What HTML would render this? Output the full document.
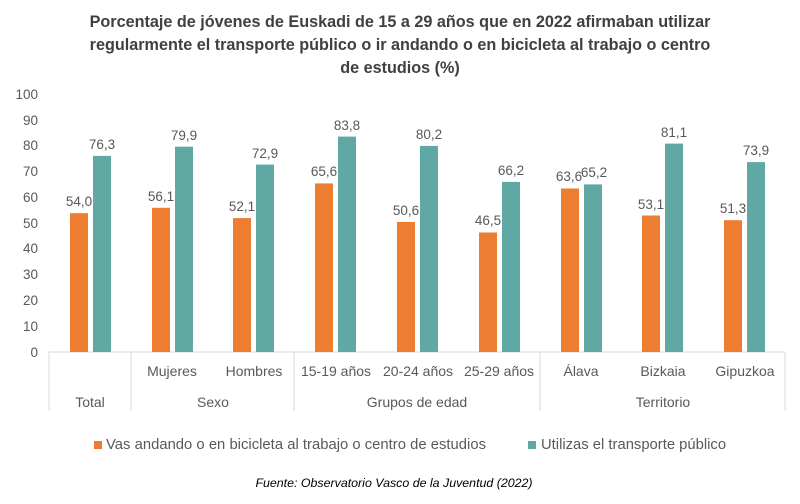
<!DOCTYPE html>
<html><head><meta charset="utf-8"><style>body{margin:0;background:#fff}svg{display:block}</style></head>
<body>
<svg width="800" height="504" xmlns="http://www.w3.org/2000/svg" font-family="Liberation Sans, sans-serif">
<g font-weight="bold" font-size="16.2" fill="#404040" text-anchor="middle">
<text x="400" y="27">Porcentaje de jóvenes de Euskadi de 15 a 29 años que en 2022 afirmaban utilizar</text>
<text x="400" y="50">regularmente el transporte público o ir andando o en bicicleta al trabajo o centro</text>
<text x="400" y="73">de estudios (%)</text>
</g>
<g font-size="13.5" fill="#595959" text-anchor="end">
<text x="38" y="99">100</text><text x="38" y="125">90</text><text x="38" y="150">80</text><text x="38" y="176">70</text><text x="38" y="202">60</text><text x="38" y="228">50</text><text x="38" y="253">40</text><text x="38" y="279">30</text><text x="38" y="305">20</text><text x="38" y="331">10</text><text x="38" y="357">0</text>
</g>
<g stroke="#d9d9d9" stroke-width="1">
<line x1="49" y1="352" x2="785" y2="352"/>
<line x1="49" y1="352" x2="49" y2="411"/>
<line x1="131" y1="352" x2="131" y2="411"/>
<line x1="294" y1="352" x2="294" y2="411"/>
<line x1="540" y1="352" x2="540" y2="411"/>
<line x1="785" y1="352" x2="785" y2="411"/>
</g>
<g font-size="14" fill="#595959" text-anchor="middle">
<text x="172" y="376">Mujeres</text><text x="254" y="376">Hombres</text><text x="336" y="376">15-19 años</text><text x="418" y="376">20-24 años</text><text x="499" y="376">25-29 años</text><text x="581" y="376">Álava</text><text x="663" y="376">Bizkaia</text><text x="745" y="376">Gipuzkoa</text>
<text x="90" y="407">Total</text><text x="213" y="407">Sexo</text><text x="417" y="407">Grupos de edad</text><text x="663" y="407">Territorio</text>
</g>
<rect x="94" y="441" width="8" height="8" fill="#ED7D31"/>
<text x="106" y="449" font-size="14.8" fill="#595959" textLength="380">Vas andando o en bicicleta al trabajo o centro de estudios</text>
<rect x="528" y="441" width="8" height="8" fill="#5FA8A4"/>
<text x="541" y="449" font-size="14.8" fill="#595959">Utilizas el transporte público</text>
<text x="394" y="487" font-size="12.4" font-style="italic" fill="#000" text-anchor="middle">Fuente: Observatorio Vasco de la Juventud (2022)</text>
<g font-size="13.5" fill="#595959" text-anchor="middle">
<rect x="70" y="213.2" width="18" height="138.8" fill="#ED7D31"/><text x="79" y="206">54,0</text>
<rect x="93" y="155.9" width="18" height="196.1" fill="#5FA8A4"/><text x="102" y="149">76,3</text>
<rect x="152" y="207.8" width="18" height="144.2" fill="#ED7D31"/><text x="161" y="201">56,1</text>
<rect x="175" y="146.7" width="18" height="205.3" fill="#5FA8A4"/><text x="184" y="140">79,9</text>
<rect x="233" y="218.1" width="18" height="133.9" fill="#ED7D31"/><text x="242" y="211">52,1</text>
<rect x="256" y="164.6" width="18" height="187.4" fill="#5FA8A4"/><text x="265" y="158">72,9</text>
<rect x="315" y="183.4" width="18" height="168.6" fill="#ED7D31"/><text x="324" y="176">65,6</text>
<rect x="338" y="136.6" width="18" height="215.4" fill="#5FA8A4"/><text x="347" y="130">83,8</text>
<rect x="397" y="221.9" width="18" height="130.1" fill="#ED7D31"/><text x="406" y="215">50,6</text>
<rect x="420" y="145.9" width="18" height="206.1" fill="#5FA8A4"/><text x="429" y="139">80,2</text>
<rect x="479" y="232.5" width="18" height="119.5" fill="#ED7D31"/><text x="488" y="225">46,5</text>
<rect x="502" y="181.9" width="18" height="170.1" fill="#5FA8A4"/><text x="511" y="175">66,2</text>
<rect x="561" y="188.5" width="18" height="163.5" fill="#ED7D31"/><text x="569" y="181">63,6</text>
<rect x="584" y="184.4" width="18" height="167.6" fill="#5FA8A4"/><text x="594" y="177">65,2</text>
<rect x="642" y="215.5" width="18" height="136.5" fill="#ED7D31"/><text x="651" y="209">53,1</text>
<rect x="665" y="143.6" width="18" height="208.4" fill="#5FA8A4"/><text x="674" y="137">81,1</text>
<rect x="724" y="220.2" width="18" height="131.8" fill="#ED7D31"/><text x="733" y="213">51,3</text>
<rect x="747" y="162.1" width="18" height="189.9" fill="#5FA8A4"/><text x="756" y="155">73,9</text>
</g>
</svg>
</body></html>
